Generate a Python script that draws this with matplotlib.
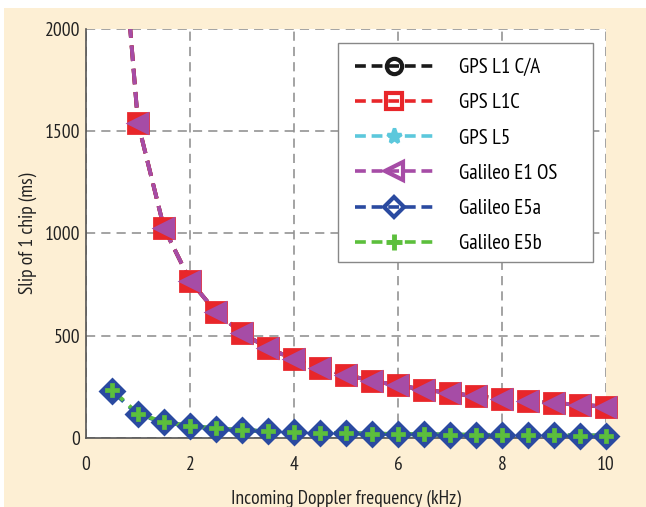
import matplotlib
matplotlib.use("Agg")
import matplotlib.pyplot as plt
from matplotlib.lines import Line2D
from matplotlib.patches import Rectangle

plt.rcParams['font.family'] = ['PT Sans Narrow', 'Fira Sans Condensed', 'Roboto Condensed',
                               'Archivo Narrow', 'Asap Condensed', 'DejaVu Sans']

doppler_khz = [0.5, 1.0, 1.5, 2.0, 2.5, 3.0, 3.5, 4.0, 4.5, 5.0,
               5.5, 6.0, 6.5, 7.0, 7.5, 8.0, 8.5, 9.0, 9.5, 10.0]
gps_l1ca = [3080, 1540, 1027, 770, 616, 513, 440, 385, 342, 308,
            280, 257, 237, 220, 205, 193, 181, 171, 162, 154]
gps_l1c = [3080, 1540, 1027, 770, 616, 513, 440, 385, 342, 308,
           280, 257, 237, 220, 205, 193, 181, 171, 162, 154]
gps_l5 = [230, 115, 77, 58, 46, 38, 33, 29, 26, 23,
          21, 19, 18, 16, 15, 14, 14, 13, 12, 12]
gal_e1os = [3080, 1540, 1027, 770, 616, 513, 440, 385, 342, 308,
            280, 257, 237, 220, 205, 193, 181, 171, 162, 154]
gal_e5a = [230, 115, 77, 58, 46, 38, 33, 29, 26, 23,
           21, 19, 18, 16, 15, 14, 14, 13, 12, 12]
gal_e5b = [236, 118, 79, 59, 47, 39, 34, 30, 26, 24,
           21, 20, 18, 17, 16, 15, 14, 13, 12, 12]

labels = ['GPS L1 C/A', 'GPS L1C', 'GPS L5', 'Galileo E1 OS', 'Galileo E5a', 'Galileo E5b']
x_ticks = [0, 2, 4, 6, 8, 10]
y_ticks = [0, 500, 1000, 1500, 2000]

series = [gps_l1ca, gps_l1c, gps_l5, gal_e1os, gal_e5a, gal_e5b]
styles = [
    dict(color='#1a1a1a', marker='o', ms=12, mfc='none', mew=3),
    dict(color='#e8262a', marker='s', ms=14, mfc='#e8262a', mew=2),
    dict(color='#5cc8dc', marker='*', ms=12, mfc='#5cc8dc', mew=2.5),
    dict(color='#a64ca6', marker='<', ms=13, mfc='#a64ca6', mew=2.5),
    dict(color='#2a4aa0', marker='D', ms=12, mfc='#2a4aa0', mew=2),
    dict(color='#5cbf3c', marker='P', ms=10, mfc='#5cbf3c', mew=0.5),
]
legend_styles = [
    dict(color='#1a1a1a', marker='o', ms=11, mfc='none', mew=3),
    dict(color='#e8262a', marker='s', ms=11, mfc='none', mew=3),
    dict(color='#5cc8dc', marker='*', ms=11, mfc='#5cc8dc', mew=2.5),
    dict(color='#a64ca6', marker='<', ms=13, mfc='none', mew=3),
    dict(color='#2a4aa0', marker='D', ms=10, mfc='none', mew=3),
    dict(color='#5cbf3c', marker='+', ms=12, mfc='none', mew=3.5),
]

fig = plt.figure(figsize=(6.46, 5.07), dpi=100, facecolor='white')
fig.patches.append(Rectangle((4 / 646, 0), 642 / 646, 499 / 507, transform=fig.transFigure,
                             facecolor='#fdefd4', edgecolor='none', zorder=-10))
ax = fig.add_axes([86 / 646, (507 - 438) / 507, 520 / 646, 409 / 507])
ax.set_facecolor('white')

ymax = 2000
for vals, st in zip(series, styles):
    ax.plot(doppler_khz, vals, linestyle=(0, (4, 2)), lw=2.8, color=st['color'], zorder=3)
    idx = [i for i, v in enumerate(vals) if v <= ymax]
    ax.plot([doppler_khz[i] for i in idx], [vals[i] for i in idx], linestyle='none',
            marker=st['marker'], ms=st['ms'], mfc=st['mfc'], mec=st['color'], mew=st['mew'],
            clip_on=False, zorder=4)

ax.set_xlim(0, 10)
ax.set_ylim(0, 2000)
ax.set_xticks(x_ticks)
ax.set_yticks(y_ticks)
ax.grid(True, color='#8a8a8a', linestyle=(0, (6, 4)), lw=1.1)
ax.set_axisbelow(True)
for s in ['top', 'right']:
    ax.spines[s].set_visible(False)
for s in ['left', 'bottom']:
    ax.spines[s].set_color('#555555')
    ax.spines[s].set_linewidth(1.2)
ax.tick_params(axis='both', length=0, labelsize=14, colors='#222222')
ax.tick_params(axis='x', pad=13)
ax.tick_params(axis='y', pad=4)
ax.set_xlabel('Incoming Doppler frequency (kHz)', fontsize=14, color='#222222', labelpad=11)
ax.set_ylabel('Slip of 1 chip (ms)', fontsize=14, color='#222222', labelpad=6)

# legend frame (drawn separately to match the reference's wide right margin)
ax.add_patch(Rectangle(((338 - 86) / 520, (438 - 262) / 409), 255 / 520, 219 / 409,
                       transform=ax.transAxes, facecolor='white', edgecolor='#888888',
                       lw=1.0, zorder=5, clip_on=False))

handles = [Line2D([0], [0], linestyle=(0, (3, 1.6)), lw=2.6, color=st['color'], marker=st['marker'],
                  ms=st['ms'], mfc=st['mfc'], mec=st['color'], mew=st['mew'])
           for st in legend_styles]
leg = ax.legend(handles, labels, loc='upper left',
                bbox_to_anchor=((355 - 86) / 520, (438 - 58) / 409),
                borderaxespad=0, borderpad=0, fontsize=15, handlelength=3.75,
                handletextpad=1.25, labelspacing=0.78, frameon=False)
leg.set_zorder(6)

fig.savefig('out.png', dpi=100, facecolor=fig.get_facecolor())
